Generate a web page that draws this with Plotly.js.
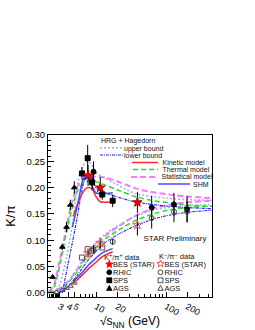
<!DOCTYPE html>
<html><head><meta charset="utf-8">
<script src="https://cdn.plot.ly/plotly-3.0.1.min.js"></script>
<style>html,body{margin:0;padding:0;background:#fff}#wrap{position:relative;width:255px;height:330px}#chart{width:255px;height:330px}#keys{position:absolute;left:0;top:0;z-index:10;pointer-events:none}</style>
</head><body><div id="wrap"><div id="chart"></div><div id="keys"></div></div><script>
// ---------- data: K+/pi+ (filled) ----------
const besX = [7.7, 11.5, 39];
const besKp = [0.223, 0.200, 0.172];
const besKpErr = [0.02, 0.02, 0.02];
const rhicX = [9.2, 62.4, 130, 200];
const rhicKp = [0.230, 0.162, 0.168, 0.159];
const rhicKpErr = [0.02, 0.022, 0.022, 0.025];
const spsX = [6.3, 7.6, 8.8, 12.3, 17.3];
const spsKp = [0.227, 0.256, 0.210, 0.187, 0.175];
const spsKpErr = [0.012, 0.025, 0.015, 0.01, 0.012];
const agsX = [2.4, 3.3, 3.8, 4.3, 4.9];
const agsKp = [0.030, 0.087, 0.125, 0.167, 0.200];
const agsKpErr = [0.004, 0.006, 0.01, 0.01, 0.012];
// ---------- data: K-/pi- (open) ----------
const besKm = [0.075, 0.094, 0.129];
const besKmErr = [0.008, 0.01, 0.02];
const rhicKmX = [9.2, 17.3, 62.4, 130, 200];
const rhicKm = [0.083, 0.097, 0.142, 0.154, 0.154];
const rhicKmErr = [0.008, 0.006, 0.02, 0.02, 0.02];
const spsKmX = [6.3, 7.6, 8.8, 12.3];
const spsKm = [0.067, 0.083, 0.079, 0.086];
const agsKmX = [2.7, 3.3, 3.8, 4.3, 4.9];
const agsKm = [0.001, 0.005, 0.009, 0.013, 0.019];
// ---------- models ----------
const statX = [2.1, 2.5, 2.9, 3.4, 4.25, 5.3, 6.3, 7.4, 9, 13.4, 20, 36, 60, 126, 200, 450];
const statKp = [0.002, 0.015, 0.049, 0.094, 0.157, 0.200, 0.212, 0.218, 0.221, 0.219, 0.212, 0.199, 0.192, 0.186, 0.183, 0.180];
const thermKp = [0.0, 0.01, 0.04, 0.085, 0.145, 0.19, 0.205, 0.212, 0.213, 0.205, 0.196, 0.183, 0.176, 0.17, 0.167, 0.164];
const upX = [2.5, 3, 3.8, 4.7, 5.9, 7.4, 8.5, 10.2, 18.7, 36, 100, 200, 450];
const upKp = [0.0, 0.015, 0.068, 0.138, 0.228, 0.250, 0.245, 0.228, 0.208, 0.189, 0.180, 0.177, 0.176];
const lowX = [3.3, 4.0, 5.3, 6.2, 7.2, 8.5, 10, 15, 36, 100, 200, 450];
const lowKp = [0.0, 0.056, 0.138, 0.19, 0.222, 0.222, 0.2, 0.188, 0.173, 0.165, 0.162, 0.160];
const kinX = [4.7, 5.9, 7, 7.7, 8.8, 10, 11.5, 17.3];
const kinKp = [0.145, 0.18, 0.197, 0.2, 0.197, 0.183, 0.173, 0.173];
const shmX = [4.6, 5.3, 5.9, 6.5, 7.2, 8, 9, 10, 12.3, 17.3];
const shmKp = [0.125, 0.16, 0.19, 0.215, 0.225, 0.215, 0.2, 0.19, 0.188, 0.19];
const kinKmX = [4.7, 6, 7.7, 10, 12, 17.3];
const kinKm = [0.018, 0.03, 0.045, 0.058, 0.068, 0.078];
const shmKmX = [4.7, 6, 7.7, 10, 12.3, 17.3];
const shmKm = [0.022, 0.035, 0.052, 0.066, 0.076, 0.084];
const statKmX = [2.1, 2.5, 3, 4, 5.5, 7.7, 10.7, 14, 22, 36, 65, 115, 200, 450];
const statKm = [0, 0.003, 0.008, 0.022, 0.046, 0.074, 0.095, 0.11, 0.128, 0.146, 0.16, 0.168, 0.172, 0.175];
const thermKm = [0, 0.002, 0.006, 0.019, 0.042, 0.07, 0.09, 0.104, 0.121, 0.137, 0.15, 0.158, 0.162, 0.165];
const upKmX = [2.5, 3, 4, 5.5, 7.7, 10.7, 14, 22, 36, 65, 115, 200, 450];
const upKm = [0.0, 0.004, 0.02, 0.048, 0.078, 0.1, 0.113, 0.13, 0.145, 0.157, 0.163, 0.166, 0.168];
const lowKmX = [3, 4, 5.5, 7.7, 10.7, 14, 22, 36, 65, 115, 200, 450];
const lowKm = [0.0, 0.012, 0.035, 0.062, 0.083, 0.097, 0.113, 0.127, 0.14, 0.148, 0.153, 0.157];
// ---------- tick labels ----------
const xTickVals = [3, 4, 5, 10, 20, 100, 200];
const xTickText = ['3', '4', '5', '10', '20', '100', '200'];
const xMinorVals = [2.1,2.2,2.3,2.4,2.5,2.6,2.7,2.8,2.9,6,7,8,9,30,40,50,60,70,80,90,300,400];

const FONT = 'Liberation Sans, Arial, sans-serif';
const C = {red:'#ff2a2a', green:'#22e022', mag:'#ff77ff', lav:'#a8a8f4', lowb:'#2020e8', shm:'#4848ff'};
const STY = {
  stat:[C.mag, '6px,3px', 2, '6,3'], therm:[C.green, '5px,3px', 1.5, '5,3'], up:[C.lav, '2px,2px', 1.5, '2,2'],
  low:[C.lowb, '3px,1px,1px,1px', 1.1, '3,1,1,1'], kin:[C.red, 'solid', 1.5, ''], shm:[C.shm, 'solid', 1.5, '']
};
function line(x, y, s){
  return {x:x, y:y, type:'scatter', mode:'lines', hoverinfo:'skip',
          line:{color:s[0], dash:s[1], width:s[2], shape:'spline', smoothing:0.8}};
}
const traces = [
  line(statX, statKp, STY.stat), line(statKmX, statKm, STY.stat),
  line(statX, thermKp, STY.therm), line(statKmX, thermKm, STY.therm),
  line(upX, upKp, STY.up), line(upKmX, upKm, STY.up),
  line(lowX, lowKp, STY.low), line(lowKmX, lowKm, STY.low),
  line(kinX, kinKp, STY.kin), line(kinKmX, kinKm, STY.kin),
  line(shmX, shmKp, STY.shm), line(shmKmX, shmKm, STY.shm)
];
function pts(x, y, err, sym, size, color, lcol){
  const t = {x:x, y:y, type:'scatter', mode:'markers', hoverinfo:'skip',
    marker:{symbol:sym, size:size, color:color, line:{color:lcol, width:1}}};
  if (err) t.error_y = {type:'data', array:err, color:'#000', thickness:1, width:0};
  return t;
}
traces.push(
  pts(agsX, agsKp, agsKpErr, 'triangle-up', 5, '#000', '#000'),
  pts(spsX, spsKp, spsKpErr, 'square', 5, '#000', '#000'),
  pts(rhicX, rhicKp, rhicKpErr, 'circle', 5, '#000', '#000'),
  pts(besX, besKp, besKpErr, 'star', 7, '#ff0000', '#aa0000'),
  pts(agsKmX, agsKm, null, 'triangle-up-open', 5, '#444', '#444'),
  pts(spsKmX, spsKm, null, 'square-open', 5, '#555', '#555'),
  pts(rhicKmX, rhicKm, rhicKmErr, 'circle-open', 5, '#444', '#444'),
  pts(besX, besKm, besKmErr, 'star-open', 7, '#ff5555', '#ff5555')
);

const L=48, R=212, T=135, B=297;
const layout = {
  width:255, height:330, margin:{l:L, r:255-R, t:T, b:330-B},
  paper_bgcolor:'#fff', plot_bgcolor:'#fff', showlegend:false,
  font:{family:FONT, color:'#000'},
  xaxis:{type:'log', range:[0.314, 2.657], tickmode:'array', tickvals:xTickVals, ticktext:xTickText,
    ticks:'inside', ticklen:5, tickwidth:1, tickcolor:'#000', showgrid:false, zeroline:false,
    showline:true, linecolor:'#000', linewidth:1, mirror:true, tickfont:{size:9},
    minor:{tickmode:'array', tickvals:xMinorVals, ticks:'inside', ticklen:3, tickcolor:'#000', showgrid:false},
    title:{text:'√s<sub>NN</sub> (GeV)', font:{size:12}, standoff:2}, automargin:false},
  yaxis:{range:[-0.008, 0.30], tickmode:'linear', tick0:0, dtick:0.05, tickformat:'.2f',
    ticks:'inside', ticklen:6, tickwidth:1, tickcolor:'#000', showgrid:false, zeroline:false,
    showline:true, linecolor:'#000', linewidth:1, mirror:true, tickfont:{size:9.5},
    minor:{dtick:0.01, ticks:'inside', ticklen:3, tickcolor:'#000', showgrid:false},
    title:{text:'K/π', font:{size:13}, standoff:8}, automargin:false}
};
Plotly.newPlot('chart', traces, layout, {displayModeBar:false, staticPlot:true});

// ---------- legend keys and labels (layout positions in page pixels) ----------
const keyLines = [
  {x0:100, x1:123, y:147.7, s:STY.up}, {x0:100, x1:123, y:155, s:STY.low},
  {x0:132, x1:158, y:162.5, s:STY.kin}, {x0:133, x1:158, y:169.5, s:STY.therm},
  {x0:131, x1:157, y:177, s:STY.stat}, {x0:158, x1:190, y:184, s:STY.shm}
];
function starPts(cx, cy, ro, ri){
  const p = [];
  for (let i = 0; i < 10; i++){
    const a = -Math.PI/2 + i*Math.PI/5, r = (i % 2) ? ri : ro;
    p.push((cx + r*Math.cos(a)).toFixed(2) + ',' + (cy + r*Math.sin(a)).toFixed(2));
  }
  return p.join(' ');
}
function keyMark(kind, cx, cy, filled, color){
  const f = filled ? color : 'none';
  const st = 'stroke="' + color + '" stroke-width="1" fill="' + f + '"';
  if (kind === 'star') return '<polygon points="' + starPts(cx, cy, 3.8, 1.6) + '" ' + st + '/>';
  if (kind === 'circle') return '<circle cx="' + cx + '" cy="' + cy + '" r="2.4" ' + st + '/>';
  if (kind === 'square') return '<rect x="' + (cx-2.4) + '" y="' + (cy-2.4) + '" width="4.8" height="4.8" ' + st + '/>';
  return '<polygon points="' + cx + ',' + (cy-2.8) + ' ' + (cx+2.6) + ',' + (cy+2) + ' ' + (cx-2.6) + ',' + (cy+2) + '" ' + st + '/>';
}
const keyMarks = [
  ['star', 109.3, 264.3, true, '#ff0000'], ['circle', 109.3, 272.3, true, '#000'],
  ['square', 109.3, 280.3, true, '#000'], ['triangle', 109.3, 288.3, true, '#000'],
  ['star', 160.5, 263.8, false, '#ff4444'], ['circle', 160.5, 272.3, false, '#444'],
  ['square', 160.5, 280.3, false, '#555'], ['triangle', 160.5, 288.3, false, '#444']
];
const sup = s => '<tspan dy="-2.6" font-size="5.5">' + s + '</tspan><tspan dy="2.6">';
const labels = [
  [101, 140.7, 'HRG + Hagedorn', 7, 'start'],
  [124, 148, 'upper bound', 7, 'start'],
  [124, 155, 'lower bound', 7, 'start'],
  [162.5, 162.5, 'Kinetic model', 7, 'start'],
  [162.5, 169, 'Thermal model', 7, 'start'],
  [161.5, 176.5, 'Statistical model', 7, 'start'],
  [193, 184, 'SHM', 7, 'start'],
  [175, 238.5, 'STAR Preliminary', 8, 'middle'],
  [104, 257, 'K' + sup('+') + '/π</tspan>' + sup('+') + ' data</tspan>', 7.5, 'start'],
  [113, 264.5, 'BES (STAR)', 7.5, 'start'],
  [113, 272.5, 'RHIC', 7.5, 'start'],
  [113, 280.5, 'SPS', 7.5, 'start'],
  [113, 288.5, 'AGS', 7.5, 'start'],
  [159, 256.5, 'K' + sup('−') + '/π</tspan>' + sup('−') + ' data</tspan>', 7.5, 'start'],
  [164.5, 264, 'BES (STAR)', 7.5, 'start'],
  [164.5, 272.5, 'RHIC', 7.5, 'start'],
  [164.5, 280.5, 'SPS', 7.5, 'start'],
  [164.5, 288.5, 'AGS', 7.5, 'start']
];
let svg = '<svg xmlns="http://www.w3.org/2000/svg" width="255" height="330" viewBox="0 0 255 330">';
keyLines.forEach(k => {
  svg += '<line x1="' + k.x0 + '" y1="' + k.y + '" x2="' + k.x1 + '" y2="' + k.y + '" stroke="' + k.s[0] +
         '" stroke-width="' + k.s[2] + '"' + (k.s[3] ? ' stroke-dasharray="' + k.s[3] + '"' : '') + '/>';
});
keyMarks.forEach(m => { svg += keyMark(m[0], m[1], m[2], m[3], m[4]); });
labels.forEach(l => {
  svg += '<text x="' + l[0] + '" y="' + (l[1] + l[3]*0.36).toFixed(2) + '" font-family="' + FONT +
         '" font-size="' + l[3] + '" fill="#111" text-anchor="' + l[4] + '">' + l[2] + '</text>';
});
svg += '</svg>';
document.getElementById('keys').innerHTML = svg;
</script></body></html>
